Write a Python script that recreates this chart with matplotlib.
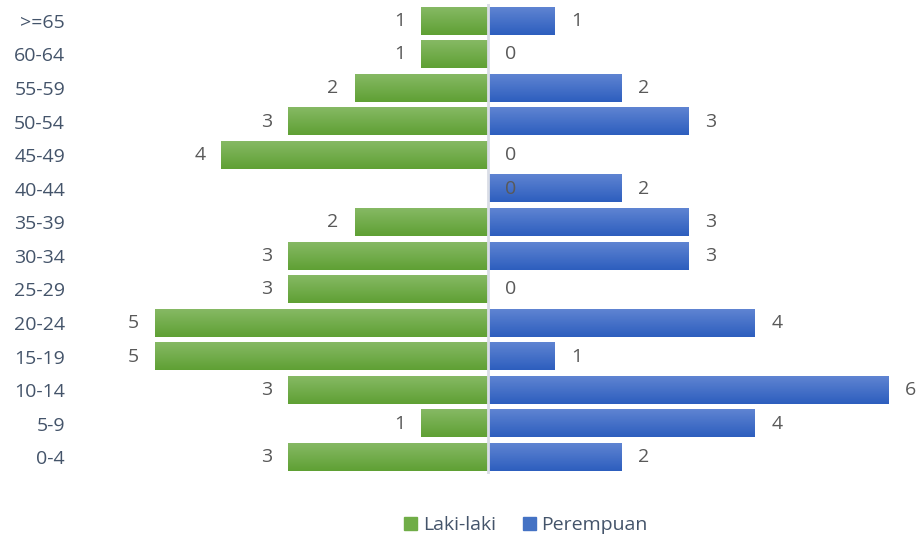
import numpy as np
import matplotlib.pyplot as plt
from matplotlib.colors import LinearSegmentedColormap
from matplotlib.patches import Patch

# age groups, bottom to top
kelompok_umur = ["0-4", "5-9", "10-14", "15-19", "20-24", "25-29", "30-34",
                 "35-39", "40-44", "45-49", "50-54", "55-59", "60-64", ">=65"]
laki_laki = [3, 1, 3, 5, 5, 3, 3, 2, 0, 4, 3, 2, 1, 1]
perempuan = [2, 4, 6, 1, 4, 0, 3, 3, 2, 0, 3, 2, 0, 1]

GREEN = "#70ad47"
BLUE = "#4472c4"
green_grad = LinearSegmentedColormap.from_list("g", ["#86b964", "#5fa034"])
blue_grad = LinearSegmentedColormap.from_list("b", ["#5f84d2", "#2d5ebe"])
TICK_COLOR = "#44546a"
LABEL_COLOR = "#595959"
FS = 14

plt.rcParams["font.family"] = ["Open Sans", "DejaVu Sans"]

fig = plt.figure(figsize=(9.21, 5.39), dpi=100)
ax = fig.add_axes([88 / 921, 1 - 474 / 539, 800 / 921, 470 / 539])

y = np.arange(len(kelompok_umur))
h = 0.82
male = -np.array(laki_laki, dtype=float)
female = np.array(perempuan, dtype=float)

grad = np.linspace(0, 1, 64).reshape(-1, 1)
for vals, cmap in [(male, green_grad), (female, blue_grad)]:
    bars = ax.barh(y, vals, height=h, color="none", edgecolor="none")
    for b in bars:
        x0, y0 = b.get_x(), b.get_y()
        w, hh = b.get_width(), b.get_height()
        if w == 0:
            continue
        ax.imshow(grad, cmap=cmap, aspect="auto", origin="upper",
                  extent=[x0, x0 + w, y0, y0 + hh], zorder=2)

ax.axvline(0, color="#d9dde6", lw=2, zorder=3)

# value labels
for vals, raw in [(male, laki_laki), (female, perempuan)]:
    for yi, v, r in zip(y, vals, raw):
        if v < 0:
            ax.annotate(str(r), (v, yi), xytext=(-11.5, 0), textcoords="offset points",
                        ha="right", va="center", fontsize=FS, color=LABEL_COLOR,
                        annotation_clip=False, zorder=4)
        else:
            ax.annotate(str(r), (v, yi), xytext=(12, 0), textcoords="offset points",
                        ha="left", va="center", fontsize=FS, color=LABEL_COLOR,
                        annotation_clip=False, zorder=4)

ax.set_xlim(-6, 6)
ax.set_ylim(-0.5, len(kelompok_umur) - 0.5)
ax.set_yticks(y)
ax.set_yticklabels(kelompok_umur, fontsize=FS, color=TICK_COLOR)
ax.tick_params(axis="y", length=0, pad=16.5)
ax.set_xticks([])
for s in ax.spines.values():
    s.set_visible(False)

handles = [Patch(color=GREEN, label="Laki-laki"), Patch(color=BLUE, label="Perempuan")]
leg = fig.legend(handles=handles, loc="center", bbox_to_anchor=(526 / 921, 1 - 525 / 539),
                 ncol=2, frameon=False, fontsize=FS, handlelength=0.65, handleheight=0.65,
                 handletextpad=0.3, columnspacing=1.4)
for t in leg.get_texts():
    t.set_color(TICK_COLOR)

fig.savefig("out.png", dpi=100)
